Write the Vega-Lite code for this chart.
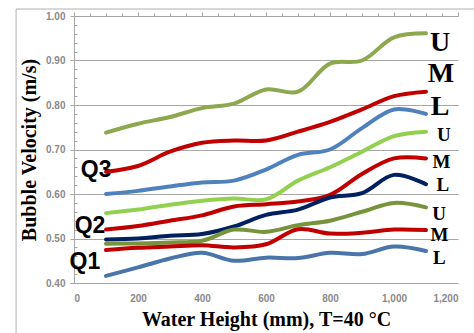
{
  "$schema": "https://vega.github.io/schema/vega-lite/v6.json",
  "width": 384,
  "height": 267,
  "autosize": {"type": "none"},
  "padding": {"left": 74, "top": 16, "right": 16, "bottom": 50},
  "background": "white",
  "config": {"view": {"stroke": null}},
  "datasets": {
    "lines": [
      {"s":"Q3-U","x":100,"v":0.738},{"s":"Q3-U","x":200,"v":0.758},{"s":"Q3-U","x":300,"v":0.773},{"s":"Q3-U","x":400,"v":0.793},{"s":"Q3-U","x":500,"v":0.803},{"s":"Q3-U","x":600,"v":0.835},{"s":"Q3-U","x":700,"v":0.83},{"s":"Q3-U","x":800,"v":0.893},{"s":"Q3-U","x":900,"v":0.9},{"s":"Q3-U","x":1000,"v":0.952},{"s":"Q3-U","x":1100,"v":0.961},
      {"s":"Q3-M","x":100,"v":0.65},{"s":"Q3-M","x":200,"v":0.663},{"s":"Q3-M","x":300,"v":0.695},{"s":"Q3-M","x":400,"v":0.715},{"s":"Q3-M","x":500,"v":0.72},{"s":"Q3-M","x":600,"v":0.72},{"s":"Q3-M","x":700,"v":0.74},{"s":"Q3-M","x":800,"v":0.762},{"s":"Q3-M","x":900,"v":0.79},{"s":"Q3-M","x":1000,"v":0.82},{"s":"Q3-M","x":1100,"v":0.83},
      {"s":"Q3-L","x":100,"v":0.6},{"s":"Q3-L","x":200,"v":0.607},{"s":"Q3-L","x":300,"v":0.617},{"s":"Q3-L","x":400,"v":0.626},{"s":"Q3-L","x":500,"v":0.63},{"s":"Q3-L","x":600,"v":0.655},{"s":"Q3-L","x":700,"v":0.688},{"s":"Q3-L","x":800,"v":0.7},{"s":"Q3-L","x":900,"v":0.748},{"s":"Q3-L","x":1000,"v":0.79},{"s":"Q3-L","x":1100,"v":0.78},
      {"s":"Q2-U","x":100,"v":0.557},{"s":"Q2-U","x":200,"v":0.565},{"s":"Q2-U","x":300,"v":0.576},{"s":"Q2-U","x":400,"v":0.585},{"s":"Q2-U","x":500,"v":0.59},{"s":"Q2-U","x":600,"v":0.588},{"s":"Q2-U","x":700,"v":0.63},{"s":"Q2-U","x":800,"v":0.66},{"s":"Q2-U","x":900,"v":0.695},{"s":"Q2-U","x":1000,"v":0.73},{"s":"Q2-U","x":1100,"v":0.74},
      {"s":"Q2-M","x":100,"v":0.52},{"s":"Q2-M","x":200,"v":0.528},{"s":"Q2-M","x":300,"v":0.54},{"s":"Q2-M","x":400,"v":0.552},{"s":"Q2-M","x":500,"v":0.572},{"s":"Q2-M","x":600,"v":0.577},{"s":"Q2-M","x":700,"v":0.583},{"s":"Q2-M","x":800,"v":0.598},{"s":"Q2-M","x":900,"v":0.645},{"s":"Q2-M","x":1000,"v":0.68},{"s":"Q2-M","x":1100,"v":0.68},
      {"s":"Q2-L","x":100,"v":0.498},{"s":"Q2-L","x":200,"v":0.5},{"s":"Q2-L","x":300,"v":0.506},{"s":"Q2-L","x":400,"v":0.51},{"s":"Q2-L","x":500,"v":0.527},{"s":"Q2-L","x":600,"v":0.553},{"s":"Q2-L","x":700,"v":0.565},{"s":"Q2-L","x":800,"v":0.592},{"s":"Q2-L","x":900,"v":0.602},{"s":"Q2-L","x":1000,"v":0.643},{"s":"Q2-L","x":1100,"v":0.622},
      {"s":"Q1-U","x":100,"v":0.488},{"s":"Q1-U","x":200,"v":0.489},{"s":"Q1-U","x":300,"v":0.491},{"s":"Q1-U","x":400,"v":0.495},{"s":"Q1-U","x":500,"v":0.52},{"s":"Q1-U","x":600,"v":0.515},{"s":"Q1-U","x":700,"v":0.53},{"s":"Q1-U","x":800,"v":0.54},{"s":"Q1-U","x":900,"v":0.56},{"s":"Q1-U","x":1000,"v":0.58},{"s":"Q1-U","x":1100,"v":0.57},
      {"s":"Q1-M","x":100,"v":0.474},{"s":"Q1-M","x":200,"v":0.479},{"s":"Q1-M","x":300,"v":0.482},{"s":"Q1-M","x":400,"v":0.485},{"s":"Q1-M","x":500,"v":0.48},{"s":"Q1-M","x":600,"v":0.487},{"s":"Q1-M","x":700,"v":0.521},{"s":"Q1-M","x":800,"v":0.511},{"s":"Q1-M","x":900,"v":0.513},{"s":"Q1-M","x":1000,"v":0.52},{"s":"Q1-M","x":1100,"v":0.519},
      {"s":"Q1-L","x":100,"v":0.416},{"s":"Q1-L","x":200,"v":0.435},{"s":"Q1-L","x":300,"v":0.455},{"s":"Q1-L","x":400,"v":0.468},{"s":"Q1-L","x":500,"v":0.45},{"s":"Q1-L","x":600,"v":0.457},{"s":"Q1-L","x":700,"v":0.456},{"s":"Q1-L","x":800,"v":0.468},{"s":"Q1-L","x":900,"v":0.465},{"s":"Q1-L","x":1000,"v":0.482},{"s":"Q1-L","x":1100,"v":0.472}
    ],
    "qlabels": [
      {"t":"Q3","x":69,"v":0.654},{"t":"Q2","x":50,"v":0.528},{"t":"Q1","x":34,"v":0.447}
    ],
    "biglabels": [
      {"t":"U","x":1144,"v":0.940},{"t":"M","x":1147,"v":0.870},{"t":"L","x":1144,"v":0.795}
    ],
    "smalllabels": [
      {"t":"U","x":1156,"v":0.733},{"t":"M","x":1148,"v":0.673},{"t":"L","x":1153,"v":0.620},
      {"t":"U","x":1141,"v":0.556},{"t":"M","x":1142,"v":0.508},{"t":"L","x":1142,"v":0.457}
    ],
    "frame": [
      {"x":-181,"x2":-181,"v":0.25,"v2":1.0157},
      {"x":-181,"x2":1400,"v":1.0157,"v2":1.0157}
    ]
  },
  "resolve": {"axis": {"x": "independent", "y": "independent"}},
  "layer": [
    {
      "data": {"name": "frame"},
      "mark": {"type": "rule", "color": "#b0b0b0", "strokeWidth": 1},
      "encoding": {
        "x": {"field": "x", "type": "quantitative", "scale": {"domain": [0, 1200], "nice": false, "zero": false}, "axis": {
          "orient": "top", "values": [0,50,100,150,200,250,300,350,400,450,500,550,600,650,700,750,800,850,900,950,1000,1050,1100,1150,1200],
          "labels": false, "title": null, "grid": false, "domain": true, "domainColor": "#a6a6a6", "tickColor": "#a6a6a6",
          "tickSize": {"condition": {"test": "datum.value % 200 === 0", "value": 4}, "value": 3}}},
        "x2": {"field": "x2"},
        "y": {"field": "v", "type": "quantitative", "scale": {"domain": [0.4, 1.0], "nice": false, "zero": false}, "axis": null},
        "y2": {"field": "v2"}
      }
    },
    {
      "data": {"name": "qlabels"},
      "mark": {"type": "text", "font": "Liberation Sans", "fontWeight": "bold", "fontSize": 23, "color": "#000", "align": "center", "baseline": "middle"},
      "encoding": {
        "x": {"field": "x", "type": "quantitative", "axis": null},
        "y": {"field": "v", "type": "quantitative", "axis": null},
        "text": {"field": "t"}
      }
    },
    {
      "data": {"name": "lines"},
      "mark": {"type": "line", "interpolate": "catmull-rom", "strokeWidth": 4, "strokeCap": "round"},
      "encoding": {
        "x": {"field": "x", "type": "quantitative", "axis": {
          "orient": "bottom", "values": [0,200,400,600,800,1000,1200], "domain": false, "ticks": false, "grid": false,
          "labelPadding": 10, "labelColor": "#8a8a8a", "labelFont": "Liberation Sans", "labelFontWeight": "bold", "labelFontSize": 10,
          "title": "Water Height (mm), T=40 °C", "titleFont": "Liberation Serif", "titleFontSize": 20, "titleFontWeight": "bold", "titleColor": "#000", "titlePadding": 6}},
        "y": {"field": "v", "type": "quantitative", "axis": {
          "orient": "left",
          "values": [0.4,0.42,0.44,0.46,0.48,0.5,0.52,0.54,0.56,0.58,0.6,0.62,0.64,0.66,0.68,0.7,0.72,0.74,0.76,0.78,0.8,0.82,0.84,0.86,0.88,0.9,0.92,0.94,0.96,0.98,1.0],
          "labelExpr": "abs(datum.value*10 - round(datum.value*10)) < 0.001 ? format(datum.value, '.2f') : ''",
          "grid": true, "gridColor": "#a6a6a6",
          "gridOpacity": {"condition": {"test": "abs(datum.value*10 - round(datum.value*10)) < 0.001", "value": 1}, "value": 0},
          "domain": true, "domainColor": "#a6a6a6", "tickColor": "#a6a6a6",
          "tickSize": {"condition": {"test": "abs(datum.value*10 - round(datum.value*10)) < 0.001", "value": 4}, "value": -3},
          "labelPadding": 5, "labelColor": "#8a8a8a", "labelFont": "Liberation Sans", "labelFontWeight": "bold", "labelFontSize": 10,
          "title": "Bubble Velocity (m/s)", "titleFont": "Liberation Serif", "titleFontSize": 20, "titleFontWeight": "bold", "titleColor": "#000", "titlePadding": 6}},
        "color": {"field": "s", "type": "nominal", "legend": null, "scale": {
          "domain": ["Q3-U","Q3-M","Q3-L","Q2-U","Q2-M","Q2-L","Q1-U","Q1-M","Q1-L"],
          "range": ["#8DA84E","#C00000","#4F81BD","#92D050","#C00000","#002060","#77933C","#C00000","#4A75AA"]}}
      }
    },
    {
      "data": {"name": "biglabels"},
      "mark": {"type": "text", "font": "Liberation Serif", "fontWeight": "bold", "fontSize": 28, "color": "#000", "align": "center", "baseline": "middle"},
      "encoding": {
        "x": {"field": "x", "type": "quantitative", "axis": null},
        "y": {"field": "v", "type": "quantitative", "axis": null},
        "text": {"field": "t"}
      }
    },
    {
      "data": {"name": "smalllabels"},
      "mark": {"type": "text", "font": "Liberation Serif", "fontWeight": "bold", "fontSize": 19, "color": "#000", "align": "center", "baseline": "middle"},
      "encoding": {
        "x": {"field": "x", "type": "quantitative", "axis": null},
        "y": {"field": "v", "type": "quantitative", "axis": null},
        "text": {"field": "t"}
      }
    }
  ]
}
